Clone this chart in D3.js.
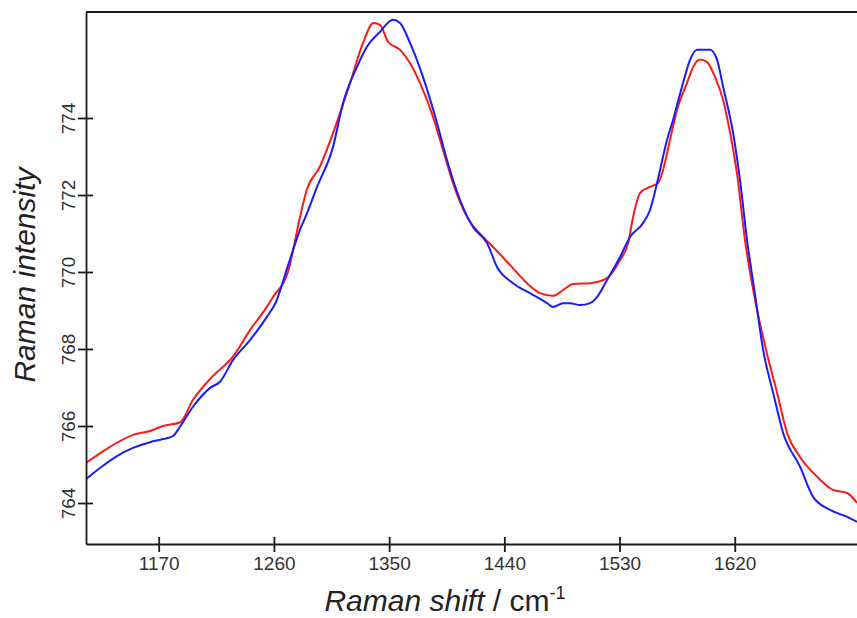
<!DOCTYPE html>
<html>
<head>
<meta charset="utf-8">
<script src="https://cdn.jsdelivr.net/npm/d3@7"></script>
<style>
  body { margin: 0; background: #fff; }
  text { font-family: "Liberation Sans", Arial, sans-serif; }
</style>
</head>
<body>
<script>
//DATA (wavenumber in cm-1, intensity)
var redShift = [1113.2,1132,1149.9,1163.2,1173.4,1186.6,1196.8,1212.4,1228,1241.3,1254.6,1259.3,1271,1280.4,1285.6,1296,1306.2,1319.5,1329.6,1337.7,1342.9,1349.1,1358.5,1366.3,1374.1,1384.3,1392.1,1399.9,1410.9,1423.4,1431.2,1444.5,1457.7,1467.9,1478,1485.9,1493.7,1506.9,1520.2,1530.4,1536.7,1540.6,1546,1553.8,1560.1,1564,1569.4,1574.9,1582.7,1587.4,1592.9,1598.4,1604.6,1610.9,1616.4,1621.9,1628,1635.9,1644.5,1653.1,1660.9,1671.1,1684.4,1696.8,1707.8,1715.5];
var redIntensity = [765.04,765.46,765.77,765.87,766.0,766.09,766.68,767.3,767.8,768.49,769.1,769.35,770.0,771.43,772.13,772.74,773.61,774.91,775.95,776.47,776.42,775.98,775.77,775.43,774.91,774.03,773.17,772.31,771.43,770.91,770.65,770.18,769.71,769.45,769.38,769.53,769.69,769.71,769.84,770.31,770.75,771.43,772.05,772.21,772.31,772.65,773.43,774.21,774.91,775.32,775.52,775.45,775.06,774.47,773.61,772.52,770.83,769.27,767.97,766.86,765.82,765.19,764.68,764.34,764.26,764.0];

var blueShift = [1113.2,1124.1,1137.4,1149.9,1163.2,1173.4,1181.2,1186.6,1196.8,1210.1,1217.9,1228,1241.3,1254.6,1261.6,1270.2,1280.4,1285.9,1293.7,1306.2,1314,1324.9,1332.7,1342.9,1353,1358.5,1366.3,1376.5,1387.4,1395.2,1405.4,1415.5,1426.5,1434.3,1446.8,1460.1,1473.4,1478,1485.9,1491.3,1499.1,1506.9,1512.4,1520.2,1530.4,1538.2,1548.4,1553.8,1559.3,1567.1,1571.8,1579.6,1585.1,1590.5,1600.7,1606.2,1610.9,1618.7,1624.1,1629.6,1635.9,1642.2,1650,1657.8,1671.1,1681.2,1694.5,1707.8,1715.5];
var blueIntensity = [764.62,764.91,765.22,765.43,765.58,765.66,765.74,765.98,766.5,766.99,767.15,767.71,768.23,768.84,769.22,770.08,771.1,771.53,772.21,773.25,774.39,775.33,775.85,776.24,776.55,776.47,775.95,775.06,773.87,772.91,771.87,771.17,770.75,770.13,769.71,769.45,769.19,769.09,769.19,769.19,769.14,769.19,769.35,769.79,770.39,770.91,771.27,771.61,772.31,773.43,773.95,774.91,775.51,775.77,775.77,775.51,774.81,773.61,772.39,770.83,769.4,767.97,766.86,765.82,764.94,764.16,763.82,763.64,763.51];

var xTicks = [1170,1260,1350,1440,1530,1620];
var yTicks = [764,766,768,770,772,774];

//SETTING UP THE CANVAS
var w = 857;
var h = 618;
var plotLeft = 86, plotTop = 12, plotRight = 857, plotBottom = 544;

var svg = d3.select("body").append("svg")
  .attr("width", w)
  .attr("height", h)
  .style("background-color", "white");

//SCALES
var xScale = d3.scaleLinear()
  .domain([1113.2, 1715.5])
  .range([plotLeft, plotRight]);
var yScale = d3.scaleLinear()
  .domain([762.935, 776.753])
  .range([plotBottom, plotTop]);

svg.append("clipPath").attr("id", "plot")
  .append("rect")
  .attr("x", plotLeft).attr("y", plotTop)
  .attr("width", plotRight - plotLeft).attr("height", plotBottom - plotTop);

//LINES
var line = d3.line()
  .x(function(d){ return xScale(d[0]); })
  .y(function(d){ return yScale(d[1]); })
  .curve(d3.curveMonotoneX);

var series = [
  { color: "#ff1a1a", pts: d3.zip(redShift, redIntensity) },
  { color: "#1a1aff", pts: d3.zip(blueShift, blueIntensity) }
];

svg.append("g").attr("clip-path", "url(#plot)")
  .selectAll("path")
  .data(series)
  .join("path")
  .attr("d", function(d){ return line(d.pts); })
  .attr("fill", "none")
  .attr("stroke", function(d){ return d.color; })
  .attr("stroke-width", 2)
  .attr("stroke-linejoin", "round");

//AXES - ticks cross the axis line
var xAxis = svg.append("g")
  .attr("transform", "translate(0," + plotBottom + ")")
  .call(d3.axisBottom(xScale).tickValues(xTicks).tickFormat(d3.format("d"))
    .tickSize(8).tickSizeOuter(0).tickPadding(5));
xAxis.selectAll(".tick line").attr("y1", -7);

var yAxis = svg.append("g")
  .attr("transform", "translate(" + plotLeft + ",0)")
  .call(d3.axisLeft(yScale).tickValues(yTicks).tickFormat(d3.format("d"))
    .tickSize(8).tickSizeOuter(0));
yAxis.selectAll(".tick line").attr("x1", 7);
yAxis.selectAll(".tick text")
  .attr("x", 0).attr("dy", 0)
  .attr("text-anchor", "middle")
  .attr("transform", "translate(-11,0) rotate(-90)");

svg.selectAll(".domain, .tick line")
  .attr("stroke", "#1a1a1a")
  .attr("stroke-width", 1.8);
svg.selectAll(".tick text")
  .attr("fill", "#333")
  .style("font-size", "19px");

//top frame line
svg.append("line")
  .attr("x1", plotLeft).attr("x2", plotRight)
  .attr("y1", plotTop).attr("y2", plotTop)
  .attr("stroke", "#1a1a1a")
  .attr("stroke-width", 2);

//TITLES
var xTitle = svg.append("text")
  .attr("x", 445).attr("y", 611)
  .attr("text-anchor", "middle")
  .attr("fill", "#222")
  .style("font-size", "30px");
xTitle.append("tspan").style("font-style", "italic").text("Raman shift");
xTitle.append("tspan").text(" / cm");
xTitle.append("tspan").attr("dy", -12).style("font-size", "18px").text("-1");

svg.append("text")
  .attr("transform", "translate(35,275) rotate(-90)")
  .attr("text-anchor", "middle")
  .attr("fill", "#222")
  .style("font-size", "30px")
  .style("font-style", "italic")
  .text("Raman intensity");
</script>
</body>
</html>
